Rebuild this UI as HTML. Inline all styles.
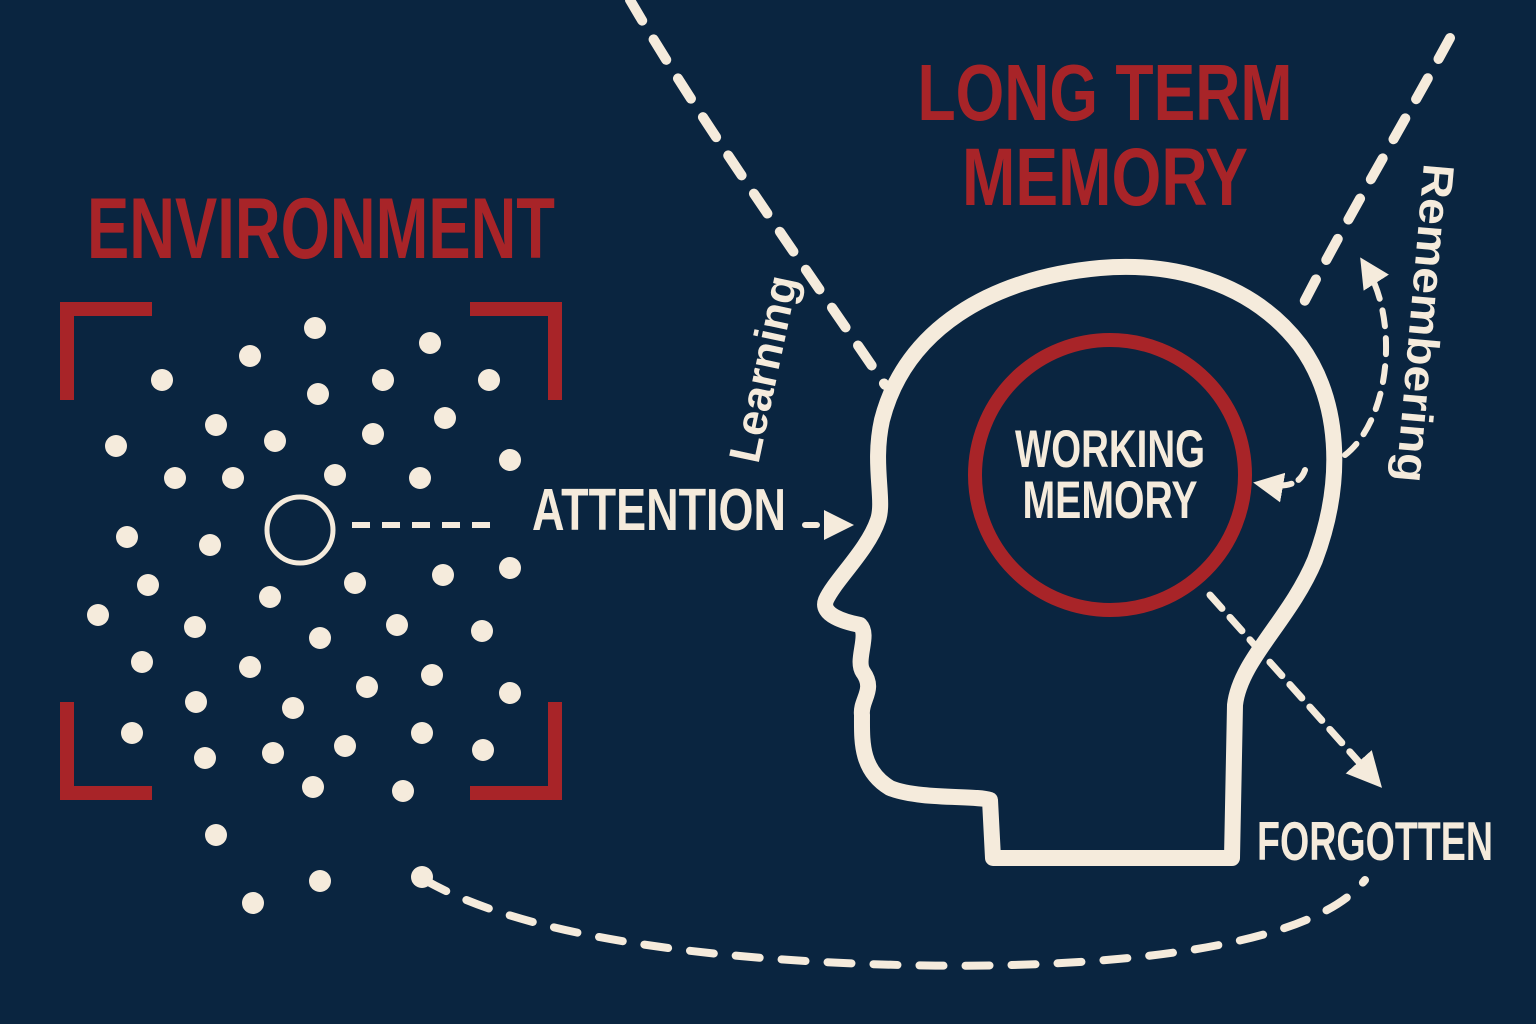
<!DOCTYPE html>
<html><head><meta charset="utf-8"><style>
html,body{margin:0;padding:0;background:#0a2540;}
svg{display:block}
text{font-family:"Liberation Sans Narrow","Liberation Sans",sans-serif;font-weight:bold;}
</style></head><body>
<svg width="1536" height="1024" viewBox="0 0 1536 1024" xmlns="http://www.w3.org/2000/svg">
<rect width="1536" height="1024" fill="#0a2540"/>
<defs>
<marker id="ah" viewBox="0 0 10 10" refX="7" refY="5" markerWidth="5" markerHeight="5" orient="auto">
<path d="M0,0 L10,5 L0,10 Z" fill="#f5ebdc"/></marker>
</defs>
<g fill="#a82428">
<rect x="60" y="302" width="92" height="14"/><rect x="60" y="302" width="14" height="98"/>
<rect x="470" y="302" width="92" height="14"/><rect x="548" y="302" width="14" height="98"/>
<rect x="60" y="786" width="92" height="14"/><rect x="60" y="702" width="14" height="98"/>
<rect x="470" y="786" width="92" height="14"/><rect x="548" y="702" width="14" height="98"/>
</g>
<g fill="#f5ebdc">
<circle cx="315" cy="328" r="11"/><circle cx="250" cy="356" r="11"/><circle cx="430" cy="343" r="11"/><circle cx="162" cy="380" r="11"/><circle cx="318" cy="394" r="11"/><circle cx="383" cy="380" r="11"/><circle cx="489" cy="380" r="11"/><circle cx="116" cy="446" r="11"/><circle cx="216" cy="425" r="11"/><circle cx="275" cy="441" r="11"/><circle cx="373" cy="434" r="11"/><circle cx="445" cy="418" r="11"/><circle cx="175" cy="478" r="11"/><circle cx="233" cy="478" r="11"/><circle cx="335" cy="475" r="11"/><circle cx="420" cy="478" r="11"/><circle cx="510" cy="460" r="11"/><circle cx="127" cy="537" r="11"/><circle cx="210" cy="545" r="11"/><circle cx="510" cy="568" r="11"/><circle cx="148" cy="585" r="11"/><circle cx="270" cy="597" r="11"/><circle cx="355" cy="583" r="11"/><circle cx="443" cy="575" r="11"/><circle cx="98" cy="615" r="11"/><circle cx="195" cy="627" r="11"/><circle cx="320" cy="638" r="11"/><circle cx="397" cy="625" r="11"/><circle cx="482" cy="631" r="11"/><circle cx="142" cy="662" r="11"/><circle cx="250" cy="667" r="11"/><circle cx="432" cy="675" r="11"/><circle cx="367" cy="687" r="11"/><circle cx="196" cy="702" r="11"/><circle cx="293" cy="708" r="11"/><circle cx="510" cy="693" r="11"/><circle cx="132" cy="733" r="11"/><circle cx="422" cy="733" r="11"/><circle cx="205" cy="758" r="11"/><circle cx="273" cy="753" r="11"/><circle cx="345" cy="746" r="11"/><circle cx="483" cy="750" r="11"/><circle cx="313" cy="787" r="11"/><circle cx="403" cy="791" r="11"/><circle cx="216" cy="835" r="11"/><circle cx="320" cy="881" r="11"/><circle cx="253" cy="903" r="11"/><circle cx="422" cy="877" r="11"/>
</g>
<circle cx="300" cy="530" r="33" fill="none" stroke="#f5ebdc" stroke-width="5"/>
<g fill="none" stroke="#f5ebdc" stroke-width="10" stroke-dasharray="24,22" stroke-linecap="round">
<path d="M630,0 C700,120 800,260 885,385"/>
<path d="M1450,38 C1400,130 1340,230 1295,320"/>
<path d="M425,880 C520,935 700,960 900,965 C1100,970 1310,950 1365,880" stroke-width="8"/>
<path d="M352,525 L500,525" stroke-dasharray="18,12" stroke-linecap="butt" stroke-width="6"/>
<path d="M805,525 L845,525" stroke-dasharray="12,10" stroke-width="6" marker-end="url(#ah)"/>
<path d="M1345,455 C1390,420 1400,320 1365,265" stroke-width="6" stroke-dasharray="16,12" marker-end="url(#ah)"/>
<path d="M1305,470 C1300,485 1285,488 1262,484" stroke-width="6" stroke-dasharray="12,8" marker-end="url(#ah)"/>
<path d="M1210,595 L1375,780" stroke-width="7" stroke-dasharray="18,12" marker-end="url(#ah)"/>
</g>
<path d="M1232,858 L1235,705 C1240,660 1290,620 1315,560 C1345,480 1340,400 1300,345 C1250,280 1170,262 1100,268 C990,278 905,330 882,420 C872,465 885,500 878,520 C868,550 835,580 826,600 C820,615 845,622 860,625 C870,635 855,660 863,672 C876,690 860,700 862,715 C862,740 860,770 890,788 C920,800 975,795 990,800 L993,858 Z" fill="none" stroke="#f5ebdc" stroke-width="16" stroke-linejoin="round"/>
<circle cx="1110" cy="475" r="135" fill="none" stroke="#a82428" stroke-width="14"/>
<g fill="#a82428">
<text x="321" y="258" font-size="86" text-anchor="middle" textLength="468" lengthAdjust="spacingAndGlyphs">ENVIRONMENT</text>
<text x="1105" y="120" font-size="80" text-anchor="middle" textLength="375" lengthAdjust="spacingAndGlyphs">LONG TERM</text>
<text x="1105" y="205" font-size="82" text-anchor="middle" textLength="286" lengthAdjust="spacingAndGlyphs">MEMORY</text>
</g>
<g fill="#f5ebdc">
<text x="1110" y="467" font-size="53" text-anchor="middle" textLength="190" lengthAdjust="spacingAndGlyphs">WORKING</text>
<text x="1110" y="518" font-size="53" text-anchor="middle" textLength="175" lengthAdjust="spacingAndGlyphs">MEMORY</text>
<text x="532" y="530" font-size="59" textLength="254" lengthAdjust="spacingAndGlyphs">ATTENTION</text>
<text x="1257" y="860" font-size="55" textLength="236" lengthAdjust="spacingAndGlyphs">FORGOTTEN</text>
<text transform="translate(778,372) rotate(-78)" font-size="44" text-anchor="middle" font-weight="normal" textLength="190" lengthAdjust="spacingAndGlyphs">Learning</text>
<text transform="translate(1410,322) rotate(95)" font-size="44" text-anchor="middle" font-weight="normal" textLength="320" lengthAdjust="spacingAndGlyphs">Remembering</text>
</g>
</svg>
</body></html>
